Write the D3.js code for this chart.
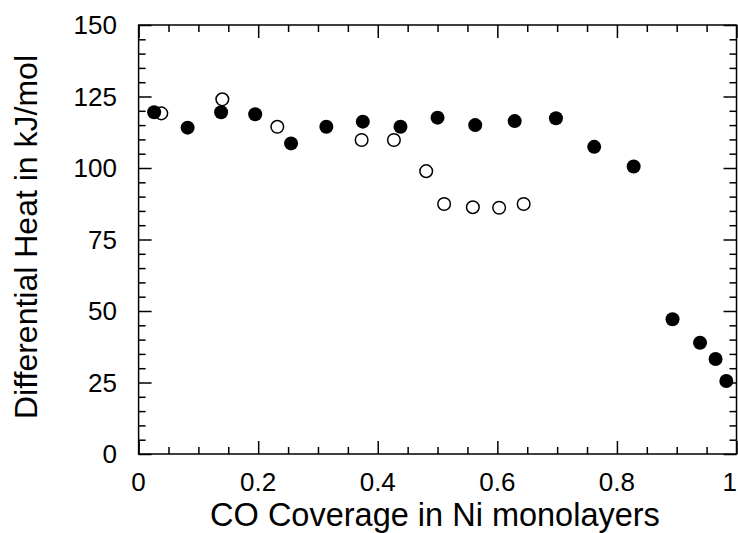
<!DOCTYPE html>
<html>
<head>
<meta charset="utf-8">
<script src="https://cdn.jsdelivr.net/npm/d3@7"></script>
<style>
    body { margin: 0; background: #fff; }
    svg { display: block; font-family: "Liberation Sans", Arial, Helvetica, sans-serif; }
</style>
</head>
<body>
<div id="chart"></div>
<script>
// filled circles
const filledX = [0.026, 0.082, 0.138, 0.195, 0.255, 0.314, 0.375, 0.438, 0.500, 0.563, 0.629, 0.698, 0.762, 0.828, 0.893, 0.939, 0.965, 0.983];
const filledY = [119.5, 114.1, 119.5, 118.8, 108.6, 114.4, 116.2, 114.4, 117.6, 115.0, 116.4, 117.4, 107.4, 100.5, 47.1, 38.9, 33.2, 25.5];
// open circles
const openX = [0.038, 0.140, 0.232, 0.373, 0.427, 0.481, 0.511, 0.559, 0.603, 0.644];
const openY = [119.1, 124.0, 114.4, 109.8, 109.8, 98.9, 87.4, 86.3, 86.1, 87.4];

const xTicks = [0, 0.2, 0.4, 0.6, 0.8, 1];
const xTickLabels = ["0", "0.2", "0.4", "0.6", "0.8", "1"];
const yTicks = [0, 25, 50, 75, 100, 125, 150];

const width = 738;
const height = 533;
const margin = { top: 25, right: 1.5, bottom: 79, left: 138.6 };
const majorLen = 13;
const minorLen = 7;

const svg = d3.select("#chart")
    .append("svg")
    .attr("width", width)
    .attr("height", height);

const x = d3.scaleLinear().domain([0, 1]).range([margin.left, width - margin.right]);
const y = d3.scaleLinear().domain([0, 150]).range([height - margin.bottom, margin.top]);

const xMinor = d3.range(0, 1.0001, 0.05).filter(v => Math.abs(v * 5 - Math.round(v * 5)) > 1e-6);
const yMinor = d3.range(0, 150.001, 5).filter(v => v % 25 !== 0);

function drawAxis(axis, transform) {
    svg.append("g")
        .attr("transform", transform)
        .call(axis)
        .call(g => g.select(".domain").remove())
        .call(g => g.selectAll("line").attr("stroke", "#000").attr("stroke-width", 1.5));
}

const plotBottom = height - margin.bottom;
const plotLeft = margin.left;
const plotRight = width - margin.right;
const plotTop = margin.top;

// ticks point inward on all four sides
drawAxis(d3.axisBottom(x).tickValues(xTicks).tickSize(-majorLen).tickFormat(""), `translate(0,${plotBottom})`);
drawAxis(d3.axisBottom(x).tickValues(xMinor).tickSize(-minorLen).tickFormat(""), `translate(0,${plotBottom})`);
drawAxis(d3.axisTop(x).tickValues(xTicks).tickSize(-majorLen).tickFormat(""), `translate(0,${plotTop})`);
drawAxis(d3.axisTop(x).tickValues(xMinor).tickSize(-minorLen).tickFormat(""), `translate(0,${plotTop})`);
drawAxis(d3.axisLeft(y).tickValues(yTicks).tickSize(-majorLen).tickFormat(""), `translate(${plotLeft},0)`);
drawAxis(d3.axisLeft(y).tickValues(yMinor).tickSize(-minorLen).tickFormat(""), `translate(${plotLeft},0)`);
drawAxis(d3.axisRight(y).tickValues(yTicks).tickSize(-majorLen).tickFormat(""), `translate(${plotRight},0)`);
drawAxis(d3.axisRight(y).tickValues(yMinor).tickSize(-minorLen).tickFormat(""), `translate(${plotRight},0)`);

svg.append("rect")
    .attr("x", plotLeft)
    .attr("y", plotTop)
    .attr("width", plotRight - plotLeft)
    .attr("height", plotBottom - plotTop)
    .attr("fill", "none")
    .attr("stroke", "#000")
    .attr("stroke-width", 1.5);

// tick labels (last one kept inside the page edge)
svg.selectAll(".xlabel")
    .data(xTicks)
    .enter().append("text")
    .attr("class", "xlabel")
    .attr("x", d => d === 1 ? width - 1 : x(d))
    .attr("y", 491)
    .attr("text-anchor", d => d === 1 ? "end" : "middle")
    .attr("font-size", 26)
    .attr("fill", "#000")
    .text((d, i) => xTickLabels[i]);

svg.selectAll(".ylabel")
    .data(yTicks)
    .enter().append("text")
    .attr("class", "ylabel")
    .attr("x", 117)
    .attr("y", d => y(d))
    .attr("dy", "0.36em")
    .attr("text-anchor", "end")
    .attr("font-size", 26)
    .attr("fill", "#000")
    .text(d => d);

// axis titles
svg.append("text")
    .attr("x", 435)
    .attr("y", 526)
    .attr("text-anchor", "middle")
    .attr("font-size", 32.5)
    .attr("fill", "#000")
    .text("CO Coverage in Ni monolayers");

svg.append("text")
    .attr("transform", "translate(36.5,237) rotate(-90)")
    .attr("text-anchor", "middle")
    .attr("font-size", 32)
    .attr("fill", "#000")
    .text("Differential Heat in kJ/mol");

// points
const filled = filledX.map((v, i) => ({ x: v, y: filledY[i] }));
const open = openX.map((v, i) => ({ x: v, y: openY[i] }));

svg.selectAll(".open")
    .data(open)
    .enter().append("circle")
    .attr("class", "open")
    .attr("cx", d => x(d.x))
    .attr("cy", d => y(d.y))
    .attr("r", 6.3)
    .attr("fill", "#fff")
    .attr("stroke", "#000")
    .attr("stroke-width", 1.5);

svg.selectAll(".filled")
    .data(filled)
    .enter().append("circle")
    .attr("class", "filled")
    .attr("cx", d => x(d.x))
    .attr("cy", d => y(d.y))
    .attr("r", 7)
    .attr("fill", "#000");
</script>
</body>
</html>
